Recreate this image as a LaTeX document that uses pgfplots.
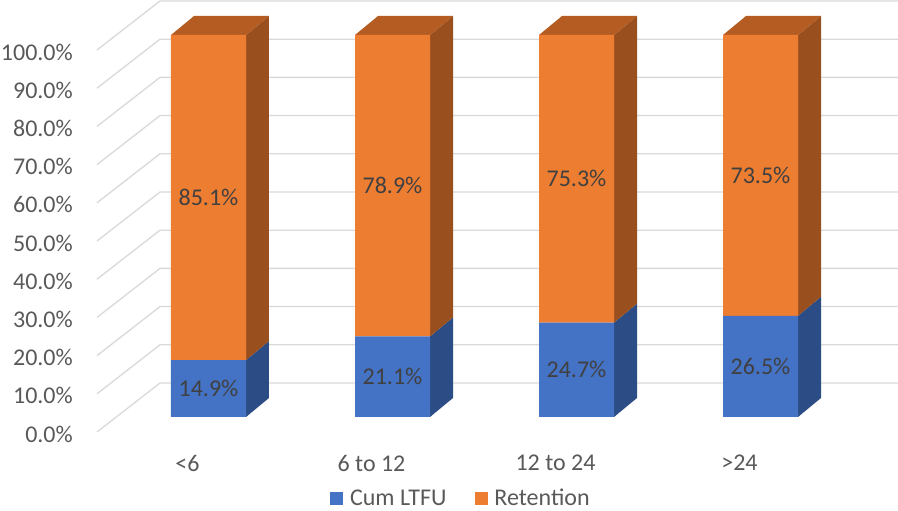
\documentclass[border=0pt]{standalone}
\usepackage{pgfplots}
\pgfplotsset{compat=1.18}
\usepackage{fontspec}
\setmainfont{Carlito}
\definecolor{gridc}{HTML}{D9D9D9}
\definecolor{bfront}{HTML}{4472C4}
\definecolor{bside}{HTML}{2B4C84}
\definecolor{ofront}{HTML}{ED7D31}
\definecolor{oside}{HTML}{9A4F1E}
\definecolor{otop}{HTML}{B55C23}
\definecolor{tickc}{HTML}{595959}
\definecolor{labc}{HTML}{404040}
\pgfplotsset{base/.style={scale only axis, width=801pt, height=440pt,
  xmin=-0.60598, xmax=3.7473, ymin=-6.021, ymax=109.162, clip=false}}
\begin{document}
\begin{tikzpicture}
% back: gridlines, side faces and top faces
\begin{axis}[base, hide axis]
\pgfplotsinvokeforeach{0,10,...,100}{
  \draw[gridc, line width=1.3pt] (axis cs:-0.60598,#1-3.927) -- (axis cs:-0.2636,#1+8.90) -- (axis cs:3.7473,#1+8.90);
}
% blue side faces
\addplot[fill=bside, draw=none] coordinates {(0.2038,0) (0.3288,4.974) (0.3288,19.874) (0.2038,14.9)} --cycle;
\addplot[fill=bside, draw=none] coordinates {(1.2038,0) (1.3288,4.974) (1.3288,26.074) (1.2038,21.1)} --cycle;
\addplot[fill=bside, draw=none] coordinates {(2.2038,0) (2.3288,4.974) (2.3288,29.674) (2.2038,24.7)} --cycle;
\addplot[fill=bside, draw=none] coordinates {(3.2038,0) (3.3288,4.974) (3.3288,31.474) (3.2038,26.5)} --cycle;
% orange side faces
\addplot[fill=oside, draw=none] coordinates {(0.2038,14.9) (0.3288,19.874) (0.3288,104.974) (0.2038,100)} --cycle;
\addplot[fill=oside, draw=none] coordinates {(1.2038,21.1) (1.3288,26.074) (1.3288,104.974) (1.2038,100)} --cycle;
\addplot[fill=oside, draw=none] coordinates {(2.2038,24.7) (2.3288,29.674) (2.3288,104.974) (2.2038,100)} --cycle;
\addplot[fill=oside, draw=none] coordinates {(3.2038,26.5) (3.3288,31.474) (3.3288,104.974) (3.2038,100)} --cycle;
% top faces
\addplot[fill=otop, draw=none] coordinates {(-0.2038,100) (0.2038,100) (0.3288,104.974) (-0.0788,104.974)} --cycle;
\addplot[fill=otop, draw=none] coordinates {(0.7962,100) (1.2038,100) (1.3288,104.974) (0.9212,104.974)} --cycle;
\addplot[fill=otop, draw=none] coordinates {(1.7962,100) (2.2038,100) (2.3288,104.974) (1.9212,104.974)} --cycle;
\addplot[fill=otop, draw=none] coordinates {(2.7962,100) (3.2038,100) (3.3288,104.974) (2.9212,104.974)} --cycle;
\end{axis}
% front faces
\begin{axis}[base, name=ax, ybar stacked, bar width=75pt,
  axis line style={draw=none}, major tick length=0pt,
  xtick={0,1,2,3}, xticklabels={{<6},{6 to 12},{12 to 24},{>24}},
  ytick={0,10,...,100},
  yticklabel={\pgfmathprintnumber[fixed,fixed zerofill,precision=1]{\tick}\%},
  /pgf/number format/assume math mode=true,
  yticklabel style={font=\fontsize{24}{28}\selectfont, text=tickc, inner sep=0pt, anchor=east, xshift=-24pt, yshift=-17pt},
  xticklabel style={font=\fontsize{24}{28}\selectfont, text=tickc, inner sep=0pt, anchor=north, xshift=-21pt, yshift=-15pt},
  legend style={draw=none, fill=none, anchor=north, at={(0.453,-0.111)}, inner sep=0pt,
    font=\fontsize{24}{28}\selectfont, text=tickc, legend columns=2,
    nodes={inner sep=0pt},
    /tikz/every odd column/.append style={column sep=7pt},
    /tikz/every even column/.append style={column sep=28pt}},
  legend image code/.code={\fill[#1] (0pt,-6.5pt) rectangle (13pt,6.5pt);},
]
\addplot[fill=bfront, draw=none] coordinates {(0,14.9) (1,21.1) (2,24.7) (3,26.5)};
\addplot[fill=ofront, draw=none] coordinates {(0,85.1) (1,78.9) (2,75.3) (3,73.5)};
\legend{Cum LTFU, Retention}
\end{axis}
% data labels
\begin{axis}[base, hide axis]
\tikzset{lab/.style={font=\fontsize{24}{28}\selectfont, text=labc}}
\node[lab] at (axis cs:0,7.45) {14.9\%};
\node[lab] at (axis cs:1,10.55) {21.1\%};
\node[lab] at (axis cs:2,12.35) {24.7\%};
\node[lab] at (axis cs:3,13.25) {26.5\%};
\node[lab] at (axis cs:0,57.45) {85.1\%};
\node[lab] at (axis cs:1,60.55) {78.9\%};
\node[lab] at (axis cs:2,62.35) {75.3\%};
\node[lab] at (axis cs:3,63.25) {73.5\%};
\end{axis}
\pgfresetboundingbox
\path ([shift={(-97pt,-71pt)}]ax.south west) rectangle (ax.north east);
\end{tikzpicture}
\end{document}
